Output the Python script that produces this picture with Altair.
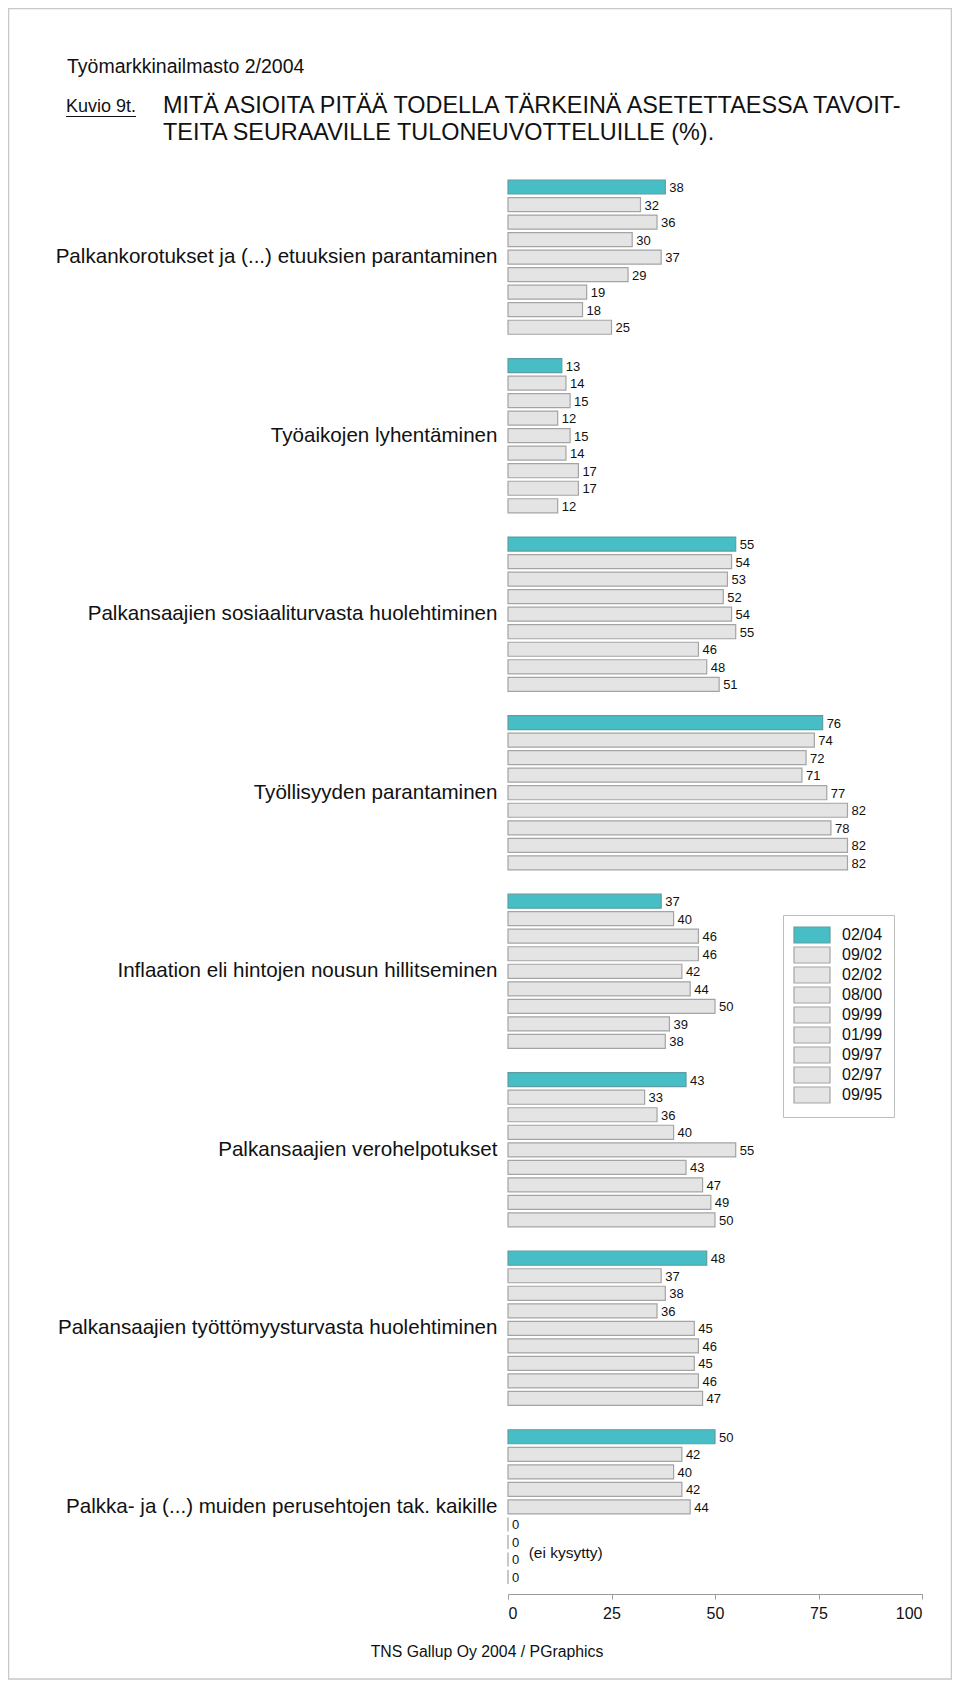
import altair as alt
import pandas as pd

FONT = "Liberation Sans, Arial, Helvetica, sans-serif"

categories = [
    "Palkankorotukset ja (...) etuuksien parantaminen",
    "Työaikojen lyhentäminen",
    "Palkansaajien sosiaaliturvasta huolehtiminen",
    "Työllisyyden parantaminen",
    "Inflaation eli hintojen nousun hillitseminen",
    "Palkansaajien verohelpotukset",
    "Palkansaajien työttömyysturvasta huolehtiminen",
    "Palkka- ja (...) muiden perusehtojen tak. kaikille",
]
periods = ["02/04", "09/02", "02/02", "08/00", "09/99", "01/99", "09/97", "02/97", "09/95"]

palkankorotukset = [38, 32, 36, 30, 37, 29, 19, 18, 25]
tyoaikojen = [13, 14, 15, 12, 15, 14, 17, 17, 12]
sosiaaliturva = [55, 54, 53, 52, 54, 55, 46, 48, 51]
tyollisyys = [76, 74, 72, 71, 77, 82, 78, 82, 82]
inflaatio = [37, 40, 46, 46, 42, 44, 50, 39, 38]
verohelpotukset = [43, 33, 36, 40, 55, 43, 47, 49, 50]
tyottomyysturva = [48, 37, 38, 36, 45, 46, 45, 46, 47]
perusehdot = [50, 42, 40, 42, 44, 0, 0, 0, 0]

series = [palkankorotukset, tyoaikojen, sosiaaliturva, tyollisyys,
          inflaatio, verohelpotukset, tyottomyysturva, perusehdot]

fills = ["#47BDC5"] + ["#E4E4E4"] * 8
strokes = ["#5E9EA3"] + ["#A4A4A4"] * 8

header_text = ["Työmarkkinailmasto 2/2004"]
figure_text = ["Kuvio 9t."]
title_text = ["MITÄ ASIOITA PITÄÄ TODELLA TÄRKEINÄ ASETETTAESSA TAVOIT-\nTEITA SEURAAVILLE TULONEUVOTTELUILLE (%)."]
footer_text = ["TNS Gallup Oy 2004 / PGraphics"]
note_category = ["Palkka- ja (...) muiden perusehtojen tak. kaikille"]
note_x = [5]
note_text = ["(ei kysytty)"]

rows = []
for cat, vals in zip(categories, series):
    for per, v in zip(periods, vals):
        rows.append({"category": cat, "period": per, "value": v})
df = pd.DataFrame(rows)

y_enc = alt.Y(
    "category:N", sort=categories,
    scale=alt.Scale(paddingInner=0.136, paddingOuter=0.056),
    axis=alt.Axis(title=None, ticks=False, domain=False, labelFontSize=20.6,
                  labelPadding=11, labelLimit=700, labelColor="#111", labelFont=FONT),
)
yoff_enc = alt.YOffset("period:N", sort=periods,
                       scale=alt.Scale(paddingInner=0.2, paddingOuter=0))

bars = alt.Chart(df).mark_bar(strokeWidth=1.2).encode(
    x=alt.X("value:Q", scale=alt.Scale(domain=[0, 100], nice=False),
            axis=alt.Axis(values=[0, 25, 50, 75, 100], title=None, grid=False,
                          tickSize=5, labelFontSize=16, labelPadding=6.5,
                          domainColor="#9a9a9a", tickColor="#9a9a9a",
                          labelColor="#111", labelFont=FONT, format="d")),
    y=y_enc,
    yOffset=yoff_enc,
    color=alt.Color("period:N", sort=periods,
                    scale=alt.Scale(domain=periods, range=fills),
                    legend=alt.Legend(title=None, orient="none", legendX=275, legendY=745,
                                      symbolType="M-1.125,-1H3.375V1H-1.125Z", symbolSize=256,
                                      symbolStrokeColor="#a0a0a0", symbolStrokeWidth=1.2,
                                      symbolOpacity=1, labelFontSize=16, labelFont=FONT,
                                      labelColor="#111", labelOffset=30, rowPadding=-2,
                                      padding=11, strokeColor="#bdbdbd", fillColor="white")),
    stroke=alt.Stroke("period:N", sort=periods,
                      scale=alt.Scale(domain=periods, range=strokes), legend=None),
)

labels = alt.Chart(df).mark_text(align="left", baseline="middle", dx=4, dy=1,
                                 fontSize=13, font=FONT, color="#111").encode(
    x="value:Q", y=alt.Y("category:N", sort=categories), yOffset=yoff_enc, text="value:Q"
)

note = alt.Chart(pd.DataFrame({"category": note_category, "x": note_x, "t": note_text})).mark_text(
    align="left", baseline="middle", dy=46, fontSize=15.5, font=FONT, color="#111"
).encode(x="x:Q", y=alt.Y("category:N", sort=categories), text="t:N")

header = alt.Chart(pd.DataFrame({"t": header_text})).mark_text(
    align="left", baseline="alphabetic", fontSize=19.5, font=FONT, color="#111"
).encode(x=alt.value(-441), y=alt.value(-97), text="t:N")

figure = alt.Chart(pd.DataFrame({"t": figure_text})).mark_text(
    align="left", baseline="alphabetic", fontSize=18, font=FONT, color="#111"
).encode(x=alt.value(-442), y=alt.value(-58), text="t:N")

underline = alt.Chart(pd.DataFrame({"t": figure_text})).mark_rule(color="#111", strokeWidth=1.2).encode(
    x=alt.value(-442), x2=alt.value(-372), y=alt.value(-53.5)
)

title = alt.Chart(pd.DataFrame({"t": title_text})).mark_text(
    align="left", baseline="alphabetic", fontSize=23.4, font=FONT, color="#111",
    lineBreak="\n", lineHeight=26.5
).encode(x=alt.value(-345), y=alt.value(-57), text="t:N")

footer = alt.Chart(pd.DataFrame({"t": footer_text})).mark_text(
    align="center", baseline="alphabetic", fontSize=15.8, font=FONT, color="#111"
).encode(x=alt.value(-21), y=alt.value(1487), text="t:N")

frame = alt.Chart(pd.DataFrame({"t": footer_text})).mark_rect(
    fillOpacity=0, stroke="#c8c8c8", strokeWidth=1.5
).encode(x=alt.value(-499.5), x2=alt.value(443.5), y=alt.value(-161.5), y2=alt.value(1509))

chart = alt.layer(frame, bars, labels, note, header, figure, underline, title, footer).properties(
    width=414, height=1424,
    autosize=alt.AutoSizeParams(type="none"),
    padding={"left": 500, "top": 162, "right": 30, "bottom": 86},
    background="white",
).configure_view(strokeWidth=0)

chart.save("out.html", embed_options={"renderer": "svg", "actions": False})
